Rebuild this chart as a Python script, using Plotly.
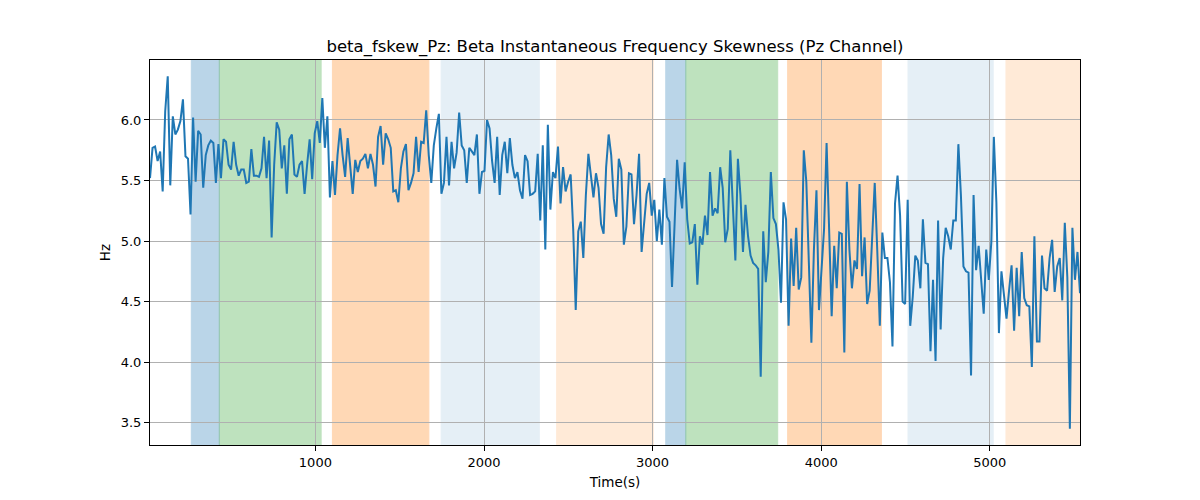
import plotly.graph_objects as go

# ---- data ----
T_START = 19.0
T_STEP = 15.03

freq_hz = [
    5.52, 5.77, 5.78, 5.66, 5.74, 5.41, 6.07, 6.36, 5.46, 6.03, 5.88, 5.92, 5.99, 6.17, 5.70, 5.68,
    5.22, 6.02, 5.49, 5.91, 5.88, 5.44, 5.71, 5.79, 5.83, 5.81, 5.48, 5.80, 5.52, 5.84, 5.82, 5.63,
    5.59, 5.82, 5.63, 5.54, 5.59, 5.59, 5.48, 5.49, 5.76, 5.54, 5.54,
    5.53, 5.60, 5.86, 5.52, 5.83, 5.03, 5.63, 5.98, 5.92, 5.60, 5.79, 5.39, 5.84, 5.88, 5.55, 5.53,
    5.63, 5.66, 5.39, 5.63, 5.84, 5.51, 5.89, 5.99, 5.81, 6.18, 5.77, 6.03, 5.36, 5.66, 5.38, 5.71,
    5.93, 5.71, 5.53, 5.85, 5.59, 5.39, 5.67, 5.57, 5.66, 5.68, 5.72, 5.60, 5.72,
    5.63, 5.45, 5.86, 5.95, 5.63, 5.89, 5.84, 5.77, 5.41, 5.42, 5.32, 5.60, 5.74, 5.80, 5.42, 5.48,
    5.56, 5.86, 5.57, 5.82, 5.81, 6.08, 5.71, 5.48, 5.79, 5.93, 6.05, 5.39, 5.48, 5.86, 5.46, 5.82,
    5.60, 5.73, 6.06, 5.79, 5.75, 5.48, 5.77, 5.74, 5.71, 5.88, 5.39, 5.57, 5.58, 6.00,
    5.93, 5.66, 5.48, 5.86, 5.38, 5.71, 5.82, 5.56, 5.85, 5.63, 5.52, 5.57, 5.42, 5.35, 5.71, 5.66,
    5.38, 5.39, 5.41, 5.72, 5.17, 5.79, 4.93, 5.96, 5.26, 5.57, 5.52, 5.78, 5.31, 5.61, 5.41, 5.49,
    5.55, 5.10, 4.43, 5.08, 5.16, 4.86, 5.38, 5.72, 5.54, 5.36, 5.56, 5.44, 5.14, 5.06, 5.61, 5.88,
    5.71, 5.35, 5.20, 5.68, 5.59, 4.97, 5.12, 5.56, 5.55, 5.14, 5.38, 5.72, 4.91, 5.16, 5.39, 5.48,
    5.21, 5.34, 5.00, 5.26, 4.97, 5.52, 5.20, 5.16, 4.62, 5.13, 5.67, 5.43, 5.27, 5.65, 5.18, 4.98,
    4.99, 5.14, 4.64, 5.04, 4.97, 5.21, 5.05, 5.57, 5.21, 5.27, 5.23, 5.61, 5.44,
    4.99, 5.10, 5.75, 5.35, 4.84, 5.68, 5.38, 4.91, 5.30, 5.04, 4.88, 4.82, 4.80, 4.77, 3.88, 5.08,
    4.66, 4.91, 5.57, 5.19, 5.14, 4.93, 4.49, 5.32, 5.18, 4.30, 5.02, 4.63, 5.11, 4.60, 4.70, 5.75,
    5.49, 4.82, 4.16, 4.93, 5.42, 4.43, 4.77, 5.10, 5.81, 5.10, 4.38, 4.96, 4.61, 5.07,
    5.06, 4.08, 5.49, 4.93, 4.61, 4.84, 4.77, 5.47, 4.71, 5.03, 4.48, 4.59, 4.99, 5.48, 4.92, 4.30,
    5.07, 4.86, 4.86, 4.66, 4.13, 5.31, 5.54, 5.21, 4.50, 4.48, 5.34, 4.30, 4.54, 4.88, 4.84, 4.61,
    5.18, 4.82, 4.81, 4.09, 4.68, 4.01, 5.17, 4.27, 4.86, 5.11, 5.04, 4.93, 5.17,
    5.17, 5.80, 5.38, 4.79, 4.75, 4.74, 3.89, 5.38, 4.76, 4.96, 4.66, 4.40, 4.93, 4.68, 4.99, 5.86,
    5.32, 4.24, 4.75, 4.55, 4.36, 4.59, 4.80, 4.26, 4.78, 4.38, 4.91, 4.53, 4.47, 4.46, 3.96, 5.04,
    4.17, 4.17, 4.88, 4.61, 4.59, 4.86, 5.01, 4.58, 4.79, 4.86, 4.51, 5.15, 4.70, 3.45, 5.11, 4.68,
    4.91, 4.57,
]

time_s = [T_START + i * T_STEP for i in range(len(freq_hz))]

band_start = [264, 430, 1101, 1746, 2431, 3078, 3197, 3801, 4515, 5096]
band_end = [430, 1034, 1673, 2328, 3004, 3197, 3742, 4357, 5020, 5540]
band_kind = ["blue", "green", "orange", "lightblue", "lightorange",
             "blue", "green", "orange", "lightblue", "lightorange"]

y_ticks = [3.5, 4.0, 4.5, 5.0, 5.5, 6.0]
x_ticks = [1000, 2000, 3000, 4000, 5000]

# ---- styles ----
kind_style = {
    "blue": ("#1f77b4", 0.30),
    "green": ("#2ca02c", 0.30),
    "orange": ("#ff7f0e", 0.30),
    "lightblue": ("#1f77b4", 0.11),
    "lightorange": ("#ff7f0e", 0.16),
}

FONT = "DejaVu Sans, Liberation Sans, sans-serif"

x_min = time_s[0]
x_max = time_s[-1]

fig = go.Figure()

shapes = []
for s, e, k in zip(band_start, band_end, band_kind):
    col, a = kind_style[k]
    shapes.append(dict(
        type="rect", xref="x", yref="paper",
        x0=s, x1=min(e, x_max), y0=0, y1=1,
        fillcolor=col, opacity=a, line=dict(width=1, color=col),
        layer="below",
    ))

fig.add_trace(go.Scatter(
    x=time_s, y=freq_hz, mode="lines",
    line=dict(color="#1f77b4", width=2),
    showlegend=False, hoverinfo="x+y",
))

fig.update_layout(
    width=1200, height=500,
    margin=dict(l=142, r=128, t=52, b=63),
    paper_bgcolor="white", plot_bgcolor="white",
    font=dict(family=FONT, size=13, color="black"),
    shapes=shapes,
    title=dict(
        text="beta_fskew_Pz: Beta Instantaneous Frequency Skewness (Pz Channel)",
        xref="paper", x=0.5, xanchor="center",
        y=1 - 38 / 500, yanchor="middle",
        font=dict(family=FONT, size=16.5, color="black"),
    ),
    xaxis=dict(
        range=[x_min, x_max],
        tickvals=x_ticks, ticktext=[str(v) for v in x_ticks],
        ticks="outside", ticklen=5, tickwidth=1, tickcolor="black",
        showline=True, linecolor="black", linewidth=1, mirror=True,
        showgrid=True, gridcolor="#b0b0b0", gridwidth=1,
        zeroline=False,
        tickfont=dict(size=13),
        title=dict(text="Time(s)", font=dict(size=13.5), standoff=8),
    ),
    yaxis=dict(
        range=[3.316, 6.495],
        tickvals=y_ticks, ticktext=[f"{v:.1f}" for v in y_ticks],
        ticks="outside", ticklen=5, tickwidth=1, tickcolor="black",
        showline=True, linecolor="black", linewidth=1, mirror=True,
        showgrid=True, gridcolor="#b0b0b0", gridwidth=1,
        zeroline=False,
        tickfont=dict(size=13),
        title=dict(text="Hz", font=dict(size=13.5), standoff=6),
    ),
)

fig.write_html("out.html")
